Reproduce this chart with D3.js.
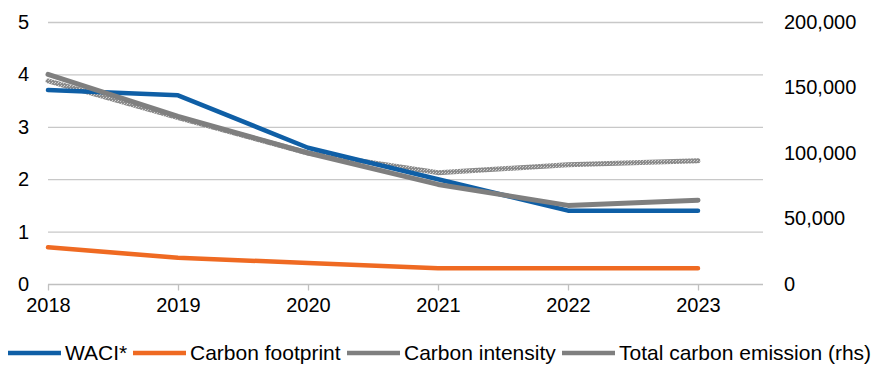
<!DOCTYPE html>
<html>
<head>
<meta charset="utf-8">
<script src="https://cdn.jsdelivr.net/npm/d3@7"></script>
<style>
  html, body { margin: 0; padding: 0; background: #fff; }
  svg { display: block; font-family: Arial, "Liberation Sans", sans-serif; }
</style>
</head>
<body>
<svg id="chart" width="872" height="365"></svg>
<script>
// Reporting years
const years = [2018, 2019, 2020, 2021, 2022, 2023];

// Left-hand-side series
const waci = [3.7, 3.6, 2.6, 2.0, 1.4, 1.4];
const carbonFootprint = [0.7, 0.5, 0.4, 0.3, 0.3, 0.3];
const carbonIntensity = [4.0, 3.2, 2.5, 1.9, 1.5, 1.6];

// Right-hand-side series
const totalEmission = [155000, 127000, 100000, 85000, 91000, 94000];

// Axis ticks
const leftTicks = [0, 1, 2, 3, 4, 5];
const rightTicks = [0, 50000, 100000, 150000, 200000];

const legendLabels = ["WACI*", "Carbon footprint", "Carbon intensity", "Total carbon emission (rhs)"];

const svg = d3.select("#chart");
const plotLeft = 48, plotRight = 763, plotTop = 22, plotBottom = 284;
const FONT = "Arial, 'Liberation Sans', sans-serif";

const x = d3.scaleLinear().domain([2018, 2023.5]).range([plotLeft, plotRight]);
const yL = d3.scaleLinear().domain([0, 5]).range([plotBottom, plotTop]);
const yR = d3.scaleLinear().domain([0, 200000]).range([plotBottom, plotTop]);

// speckled stroke for the emissions line
const defs = svg.append("defs");
const pat = defs.append("pattern")
  .attr("id", "speckle").attr("patternUnits", "userSpaceOnUse")
  .attr("width", 3).attr("height", 3);
pat.append("rect").attr("width", 3).attr("height", 3).attr("fill", "#8c8c8c");
pat.append("rect").attr("x", 1).attr("y", 1).attr("width", 1).attr("height", 1).attr("fill", "#d4d4d4");
pat.append("rect").attr("x", 0).attr("y", 2).attr("width", 1).attr("height", 1).attr("fill", "#c4c4c4");

// gridlines
svg.append("g").selectAll("line").data(leftTicks.filter(d => d > 0)).join("line")
  .attr("x1", plotLeft).attr("x2", plotRight)
  .attr("y1", d => yL(d) + 0.5).attr("y2", d => yL(d) + 0.5)
  .attr("stroke", "#c8c8c8").attr("stroke-width", 1.3);

// x axis
const xAxis = d3.axisBottom(x).tickValues(years).tickFormat(d3.format("d")).tickSize(6).tickPadding(7);
const gx = svg.append("g").attr("transform", `translate(0,${plotBottom + 0.5})`).call(xAxis);
gx.select(".domain").attr("stroke", "#c0c0c0").attr("stroke-width", 1.3)
  .attr("d", `M${plotLeft},0H${plotRight}`);
gx.selectAll(".tick line").attr("stroke", "#c0c0c0").attr("stroke-width", 1.3);
gx.selectAll(".tick text").attr("font-size", 20).attr("fill", "#000").attr("font-family", FONT);

// left axis labels
const gl = svg.append("g").attr("transform", `translate(${plotLeft},0)`)
  .call(d3.axisLeft(yL).tickValues(leftTicks).tickFormat(d3.format("d")).tickSize(0).tickPadding(19));
gl.select(".domain").remove();
gl.selectAll(".tick text").attr("font-size", 20).attr("fill", "#000").attr("font-family", FONT);

// right axis labels
const gr = svg.append("g").attr("transform", `translate(${plotRight},0)`)
  .call(d3.axisRight(yR).tickValues(rightTicks).tickFormat(d3.format(",")).tickSize(0).tickPadding(21));
gr.select(".domain").remove();
gr.selectAll(".tick text").attr("font-size", 20).attr("fill", "#000").attr("font-family", FONT);

const lineL = d3.line().x((d, i) => x(years[i])).y(d => yL(d));
const lineR = d3.line().x((d, i) => x(years[i])).y(d => yR(d));

const series = [
  { vals: totalEmission, gen: lineR, stroke: "url(#speckle)", w: 5 },
  { vals: waci, gen: lineL, stroke: "#0f5fa6", w: 4.5 },
  { vals: carbonFootprint, gen: lineL, stroke: "#ef6a22", w: 4.5 },
  { vals: carbonIntensity, gen: lineL, stroke: "#7f7f7f", w: 5 }
];
svg.append("g").selectAll("path").data(series).join("path")
  .attr("d", s => s.gen(s.vals))
  .attr("fill", "none").attr("stroke", s => s.stroke).attr("stroke-width", s => s.w)
  .attr("stroke-linecap", "round").attr("stroke-linejoin", "round");

// legend
const legendItems = [
  { label: legendLabels[0], color: "#0f5fa6", x0: 8 },
  { label: legendLabels[1], color: "#ef6a22", x0: 133 },
  { label: legendLabels[2], color: "#7f7f7f", x0: 347 },
  { label: legendLabels[3], color: "#7f7f7f", x0: 562 }
];
const lg = svg.append("g").selectAll("g").data(legendItems).join("g")
  .attr("transform", d => `translate(${d.x0},353)`);
lg.append("line").attr("x1", 0).attr("x2", 53).attr("y1", 0).attr("y2", 0)
  .attr("stroke", d => d.color).attr("stroke-width", 4.5);
lg.append("text").attr("x", 57).attr("y", 0).attr("dy", "0.35em")
  .attr("font-size", 21).attr("fill", "#000").attr("font-family", FONT).text(d => d.label);
</script>
</body>
</html>
